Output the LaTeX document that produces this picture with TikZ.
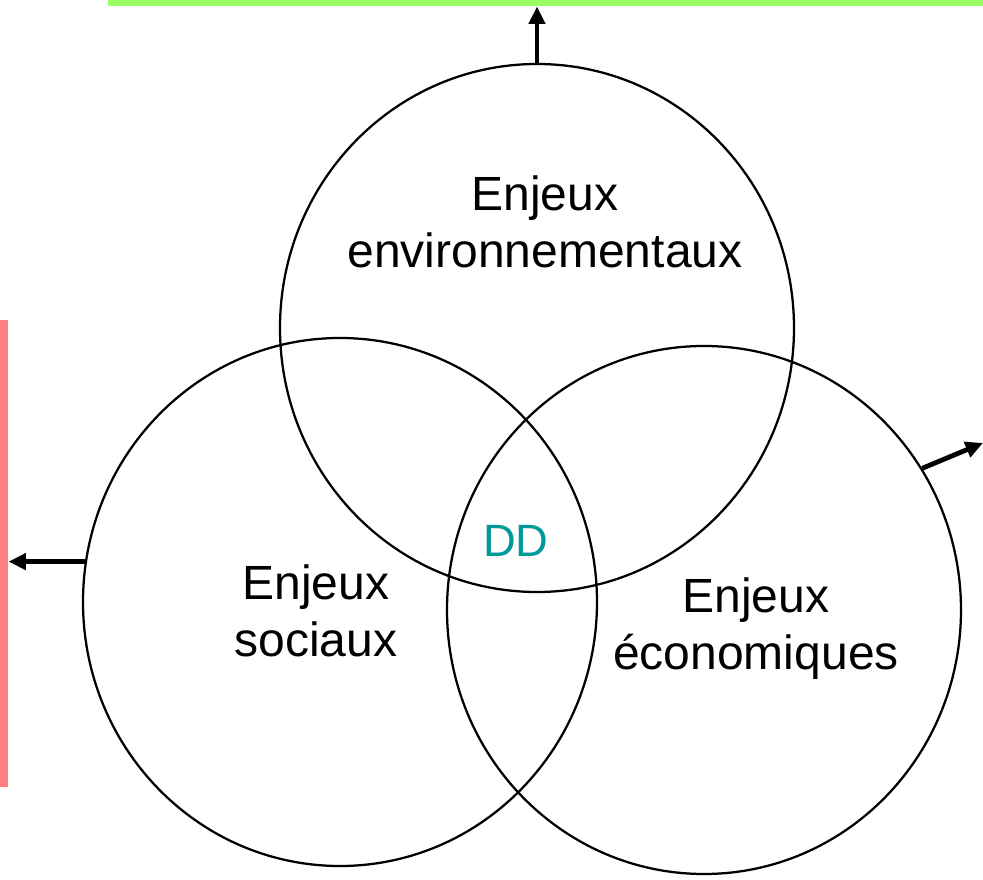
\documentclass[tikz,border=0pt]{standalone}
\usepackage{fontspec}
\setmainfont{Liberation Sans}
\usetikzlibrary{arrows.meta,shapes.geometric}
\definecolor{envgreen}{RGB}{153,255,102}
\definecolor{socpink}{RGB}{255,128,128}
\definecolor{ddteal}{RGB}{0,153,153}
\begin{document}
\begin{tikzpicture}[x=0.75pt,y=-0.75pt,
		circ/.style={draw, ellipse, line width=1.7pt, minimum width=385.5pt, minimum height=396pt, inner sep=0pt},
		bar/.style={inner sep=0pt, anchor=north west},
		lbl/.style={align=center, anchor=base, font=\fontsize{36}{43}\selectfont},
		outarrow/.style={line width=3.6pt, -{Triangle[length=13pt,width=12pt]}}]
			%%%%% START %%%%%
			\useasboundingbox (0, 0) rectangle (983, 880);
			
			\node[bar, fill=envgreen, minimum width=656.25pt, minimum height=4.5pt] (envbar) at (108, 0) {};
			\node[bar, fill=socpink, minimum width=6pt, minimum height=350.25pt] (socbar) at (0, 320) {};
			
			\node[circ] (env) at (537, 328) {};
			\node[circ] (soc) at (340, 602) {};
			\node[circ] (eco) at (704, 610) {};
			
			\node[lbl] (envtxt) at (545, 268) {Enjeux\\environnementaux};
			\node[lbl] (soctxt) at (316, 657) {Enjeux\\sociaux};
			\node[lbl] (ecotxt) at (756, 670) {Enjeux\\économiques};
			\node[anchor=base, text=ddteal, font=\fontsize{34}{40}\selectfont] (dd) at (516, 557) {DD};
			
			\coordinate (ecoend) at (983, 443);
			\draw[outarrow] (env.north) -- (env.north |- envbar.south);
			\draw[outarrow] (soc.171.4) -- (soc.171.4 -| socbar.east);
			\draw[outarrow] (eco.33.3) -- (ecoend);
			
			%%%%% END %%%%%
\end{tikzpicture}
\end{document}
